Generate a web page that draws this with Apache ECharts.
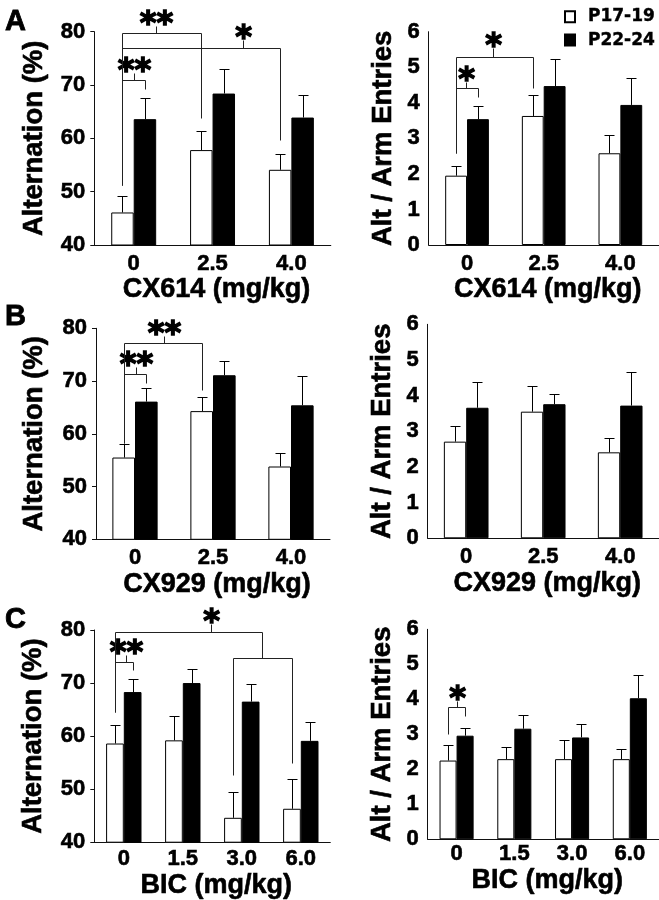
<!DOCTYPE html>
<html><head><meta charset="utf-8">
<script src="https://cdn.jsdelivr.net/npm/echarts@6/dist/echarts.min.js"></script>
<style>html,body{margin:0;padding:0;background:#fff}#c{width:659px;height:900px}</style>
</head><body><div id="c"></div>
<script>
// ---------- categories ----------
const catsCX = ['0', '2.5', '4.0'];
const catsBIC = ['0', '1.5', '3.0', '6.0'];
const seriesNames = ['P17-19', 'P22-24'];

// ---------- A: CX614 ----------
const altCX614Young = [46.1, 57.8, 54.1];
const altCX614YoungErr = [3.0, 3.6, 2.9];
const altCX614Old = [63.6, 68.4, 63.9];
const altCX614OldErr = [3.9, 4.6, 4.2];
const entCX614Young = [1.95, 3.63, 2.58];
const entCX614YoungErr = [0.28, 0.59, 0.51];
const entCX614Old = [3.54, 4.47, 3.94];
const entCX614OldErr = [0.37, 0.77, 0.75];

// ---------- B: CX929 ----------
const altCX929Young = [55.5, 64.3, 53.8];
const altCX929YoungErr = [2.6, 2.6, 2.5];
const altCX929Old = [66.1, 71.1, 65.4];
const altCX929OldErr = [2.5, 2.7, 5.6];
const entCX929Young = [2.71, 3.55, 2.41];
const entCX929YoungErr = [0.44, 0.73, 0.41];
const entCX929Old = [3.66, 3.76, 3.72];
const entCX929OldErr = [0.71, 0.28, 0.95];

// ---------- C: BIC ----------
const altBICYoung = [58.6, 59.2, 44.6, 46.3];
const altBICYoungErr = [3.5, 4.5, 4.9, 5.7];
const altBICOld = [68.3, 70.0, 66.5, 59.1];
const altBICOldErr = [2.4, 2.6, 3.3, 3.6];
const entBICYoung = [2.25, 2.29, 2.29, 2.29];
const entBICYoungErr = [0.44, 0.34, 0.55, 0.29];
const entBICOld = [2.96, 3.16, 2.91, 4.03];
const entBICOldErr = [0.21, 0.38, 0.38, 0.67];

// ---------- significance brackets ----------
// [cat1, side1, cat2, side2, barY, leftLegEndY, rightLegEndY, tickTopY, tickFraction, label]
// side -1 = P17-19 bar, +1 = P22-24 bar
const sigAltCX614 = [
  [0, -1, 0, 1, 71.0, 51.3, 69.2, 72.2, 0.52, '**'],
  [0, -1, 1, -1, 79.7, 51.3, 63.8, 81.0, 0.43, '**'],
  [0, -1, 2, -1, 76.9, 51.3, 59.7, 78.4, 0.76, '*']
];
const sigEntCX614 = [
  [0, -1, 0, 1, 4.43, 2.6, 4.15, 4.59, 0.45, '*'],
  [0, -1, 1, -1, 5.30, 2.6, 4.41, 5.53, 0.48, '*']
];
const sigAltCX929 = [
  [0, -1, 0, 1, 71.3, 58.3, 69.6, 72.6, 0.52, '**'],
  [0, -1, 1, -1, 77.3, 58.3, 68.3, 78.5, 0.50, '**']
];
const sigEntCX929 = [];
const sigAltBIC = [
  [0, -1, 0, 1, 74.0, 64.6, 72.5, 75.3, 0.60, '**'],
  [2, -1, 3, -1, 74.7, 52.7, 54.9, null, 0, ''],
  [0, -1, 2.5, -1, 79.6, 64.6, 74.7, 81.2, 0.65, '*']
];
const sigEntBIC = [
  [0, -1, 0, 1, 3.79, 3.01, 3.53, 3.95, 0.52, '*']
];

// ---------- panel layout ----------
const panels = [
  {grid: {left: 94.3, top: 31.7, width: 236.5, height: 213.3}, cats: catsCX, min: 40, max: 80, interval: 10, ticks: true,
   yName: 'Alternation (%)', xName: 'CX614 (mg/kg)', young: altCX614Young, youngErr: altCX614YoungErr, old: altCX614Old, oldErr: altCX614OldErr,
   sig: sigAltCX614, gap: 0.43, yGap: 46, xGap: 30, xMargin: 8},
  {grid: {left: 428.7, top: 31.7, width: 230, height: 213.3}, cats: catsCX, min: 0, max: 6, interval: 1, ticks: false,
   yName: 'Alt / Arm Entries', xName: 'CX614 (mg/kg)', young: entCX614Young, youngErr: entCX614YoungErr, old: entCX614Old, oldErr: entCX614OldErr,
   sig: sigEntCX614, gap: 0.43, yGap: 31, xGap: 30, xMargin: 8},
  {grid: {left: 96, top: 328.3, width: 234, height: 211}, cats: catsCX, min: 40, max: 80, interval: 10, ticks: true,
   yName: 'Alternation (%)', xName: 'CX929 (mg/kg)', young: altCX929Young, youngErr: altCX929YoungErr, old: altCX929Old, oldErr: altCX929OldErr,
   sig: sigAltCX929, gap: 0.42, yGap: 48, xGap: 32, xMargin: 8},
  {grid: {left: 427.7, top: 324.3, width: 231, height: 214}, cats: catsCX, min: 0, max: 6, interval: 1, ticks: false,
   yName: 'Alt / Arm Entries', xName: 'CX929 (mg/kg)', young: entCX929Young, youngErr: entCX929YoungErr, old: entCX929Old, oldErr: entCX929OldErr,
   sig: sigEntCX929, gap: 0.42, yGap: 31, xGap: 32, xMargin: 8},
  {grid: {left: 94.3, top: 630, width: 236, height: 212.7}, cats: catsBIC, min: 40, max: 80, interval: 10, ticks: true,
   yName: 'Alternation (%)', xName: 'BIC (mg/kg)', young: altBICYoung, youngErr: altBICYoungErr, old: altBICOld, oldErr: altBICOldErr,
   sig: sigAltBIC, gap: 0.40, yGap: 47, xGap: 21, xMargin: 6},
  {grid: {left: 427.7, top: 629.3, width: 231, height: 210}, cats: catsBIC, min: 0, max: 6, interval: 1, ticks: false,
   yName: 'Alt / Arm Entries', xName: 'BIC (mg/kg)', young: entBICYoung, youngErr: entBICYoungErr, old: entBICOld, oldErr: entBICOldErr,
   sig: sigEntBIC, gap: 0.41, yGap: 31, xGap: 25, xMargin: 4}
];

const FONT = '"Liberation Sans", Arial, Helvetica, sans-serif';
const STARFONT = '"DejaVu Sans", sans-serif';
const THICK = 0.6;
const chart = echarts.init(document.getElementById('c'), null, {renderer: 'canvas'});

const grids = [], xAxes = [], yAxes = [], series = [];

function errRender(side, gapFrac) {
  return function (params, api) {
    const c = api.value(0), v = api.value(1), e = api.value(2);
    const p0 = api.coord([c, v]);
    const p1 = api.coord([c, v + e]);
    const band = api.size([1, 0])[0];
    const bw = band * (1 - gapFrac) / 2;
    const x = Math.round(p0[0] + side * bw / 2) + 0.5;
    const y1 = Math.round(p1[1]) + 0.5;
    return {type: 'group', children: [
      {type: 'line', shape: {x1: x, y1: p0[1], x2: x, y2: y1}, style: {stroke: '#000', lineWidth: 1}},
      {type: 'line', shape: {x1: x - 5, y1: y1, x2: x + 5, y2: y1}, style: {stroke: '#000', lineWidth: 1}}
    ]};
  };
}

function sigRender(sig, gapFrac) {
  return function (params, api) {
    const b = sig[params.dataIndex];
    const origin = api.coord([0, b[4]]);
    const band = api.size([1, 0])[0];
    const bw = band * (1 - gapFrac) / 2;
    const xOf = (c, s) => Math.round(origin[0] + c * band + s * bw / 2) + 0.5;
    const yOf = v => Math.round(api.coord([0, v])[1]) + 0.5;
    const xa = xOf(b[0], b[1]), xb = xOf(b[2], b[3]);
    const yb = yOf(b[4]);
    const st = {stroke: '#222', lineWidth: 1};
    const children = [
      {type: 'line', shape: {x1: xa, y1: yb, x2: xb, y2: yb}, style: st},
      {type: 'line', shape: {x1: xa, y1: yb, x2: xa, y2: yOf(b[5])}, style: st},
      {type: 'line', shape: {x1: xb, y1: yb, x2: xb, y2: yOf(b[6])}, style: st}
    ];
    if (b[7] !== null) {
      const xm = Math.round(xa + (xb - xa) * b[8]) + 0.5;
      const yt = yOf(b[7]);
      children.push({type: 'line', shape: {x1: xm, y1: yb, x2: xm, y2: yt}, style: st});
      children.push({type: 'text', x: xm, y: yt - 2, style: {text: b[9], fill: '#000',
        stroke: '#000', lineWidth: 1.4,
        font: 'bold 32px ' + STARFONT, align: 'center', verticalAlign: 'middle'}});
    }
    return {type: 'group', children: children};
  };
}

const txt = (size) => ({color: '#000', fontFamily: FONT, fontWeight: 'bold', fontSize: size,
  textBorderColor: '#000', textBorderWidth: THICK});

panels.forEach((p, i) => {
  grids.push(Object.assign({containLabel: false}, p.grid));
  xAxes.push({
    type: 'category', gridIndex: i, data: p.cats,
    axisLine: {lineStyle: {color: '#111', width: 1}},
    axisTick: {show: false},
    axisLabel: Object.assign(txt(22), {margin: p.xMargin, interval: 0}),
    name: p.xName, nameLocation: 'middle', nameGap: p.xGap,
    nameTextStyle: Object.assign(txt(27), {padding: [0, 0, 0, 8]})
  });
  yAxes.push({
    type: 'value', gridIndex: i, min: p.min, max: p.max, interval: p.interval,
    splitLine: {show: false},
    axisLine: {show: true, lineStyle: {color: '#111', width: 1}},
    axisTick: {show: p.ticks, length: 4, lineStyle: {color: '#111'}},
    axisLabel: Object.assign(txt(22), {margin: 9}),
    name: p.yName, nameLocation: 'middle', nameGap: p.yGap,
    nameTextStyle: txt(27.5)
  });
  const gapStr = (p.gap * 100) + '%';
  series.push({
    type: 'bar', name: seriesNames[0], xAxisIndex: i, yAxisIndex: i, data: p.young,
    barGap: '0%', barCategoryGap: gapStr,
    itemStyle: {color: '#fff', borderColor: '#000', borderWidth: 1}, silent: true
  });
  series.push({
    type: 'bar', name: seriesNames[1], xAxisIndex: i, yAxisIndex: i, data: p.old,
    barGap: '0%', barCategoryGap: gapStr,
    itemStyle: {color: '#000', borderColor: '#000', borderWidth: 1}, silent: true
  });
  series.push({
    type: 'custom', xAxisIndex: i, yAxisIndex: i, z: 5, silent: true,
    data: p.young.map((v, k) => [k, v, p.youngErr[k]]), renderItem: errRender(-1, p.gap)
  });
  series.push({
    type: 'custom', xAxisIndex: i, yAxisIndex: i, z: 5, silent: true,
    data: p.old.map((v, k) => [k, v, p.oldErr[k]]), renderItem: errRender(1, p.gap)
  });
  if (p.sig.length) {
    series.push({
      type: 'custom', xAxisIndex: i, yAxisIndex: i, z: 6, silent: true, clip: false,
      data: p.sig.map(b => [b[0], b[4]]), renderItem: sigRender(p.sig, p.gap)
    });
  }
});

const letterStyle = {fontFamily: FONT, fontWeight: 'bold', fontSize: 29, color: '#000',
  textBorderColor: '#000', textBorderWidth: 0.8};
chart.setOption({
  animation: false,
  backgroundColor: '#fff',
  title: [
    {text: 'A', left: 0, top: 2, textStyle: letterStyle},
    {text: 'B', left: 0, top: 297, textStyle: letterStyle},
    {text: 'C', left: 0, top: 600, textStyle: letterStyle}
  ],
  legend: {
    data: seriesNames, orient: 'vertical', left: 559, top: 3, icon: 'rect',
    itemWidth: 10, itemHeight: 11, itemGap: 6, selectedMode: false,
    textStyle: {color: '#000', fontFamily: '"DejaVu Sans", sans-serif', fontWeight: 'bold', fontSize: 17, lineHeight: 17,
      padding: [0, 0, 0, 8], textBorderColor: '#000', textBorderWidth: 0.4}
  },
  grid: grids, xAxis: xAxes, yAxis: yAxes, series: series
});
</script></body></html>
